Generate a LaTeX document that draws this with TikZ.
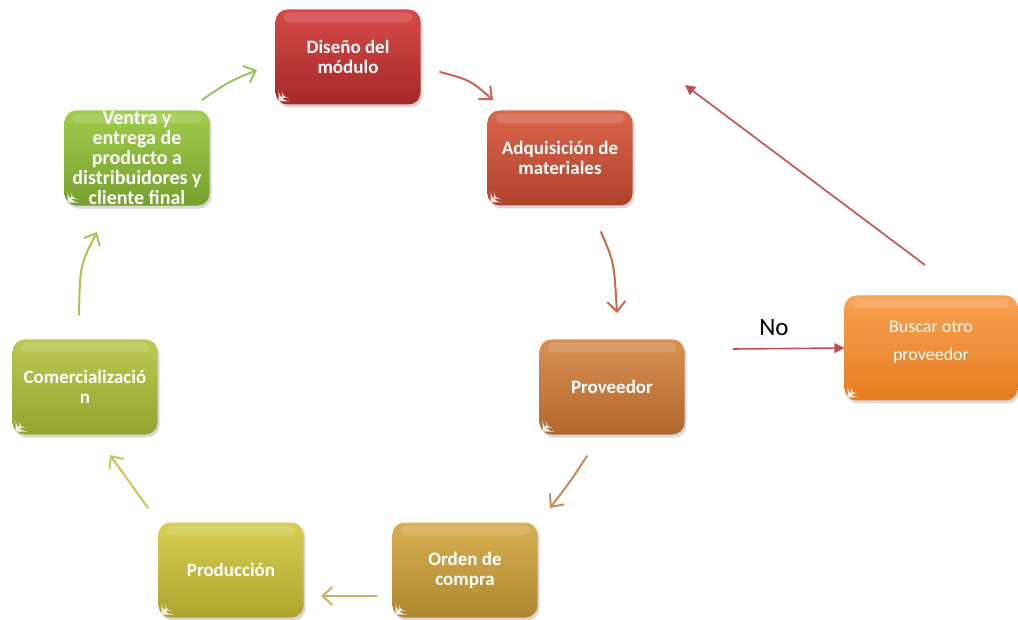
\documentclass[tikz,border=0pt]{standalone}
\usepackage{fontspec}
\setmainfont{Carlito}
\usetikzlibrary{arrows.meta,shadows,calc}
\definecolor{redline}{HTML}{C0504D}
\definecolor{disT}{HTML}{D64A48}\definecolor{disB}{HTML}{A62828}
\definecolor{adqT}{HTML}{DA664C}\definecolor{adqB}{HTML}{B0422C}
\definecolor{provT}{HTML}{D89052}\definecolor{provB}{HTML}{B0682E}
\definecolor{ordT}{HTML}{D8B052}\definecolor{ordB}{HTML}{AE862E}
\definecolor{prodT}{HTML}{D8CE52}\definecolor{prodB}{HTML}{ACA42E}
\definecolor{comT}{HTML}{BCC852}\definecolor{comB}{HTML}{94A42E}
\definecolor{venT}{HTML}{A0CC4C}\definecolor{venB}{HTML}{76A02E}
\definecolor{busT}{HTML}{FAA254}\definecolor{busB}{HTML}{E47C1E}
\definecolor{ar1}{HTML}{D2605C}
\definecolor{ar2}{HTML}{C86A4C}
\definecolor{ar3}{HTML}{CC8A54}
\definecolor{ar4}{HTML}{D2B064}
\definecolor{ar5}{HTML}{CCC45A}
\definecolor{ar6}{HTML}{AAC254}
\definecolor{ar7}{HTML}{9CC460}
\tikzset{
  box/.style={rounded corners=12pt, minimum width=145pt, minimum height=95pt,
    text=white, align=center, inner sep=1pt,
    font=\bfseries\fontsize{19}{20}\selectfont,
    drop shadow={shadow xshift=2pt, shadow yshift=-3pt, opacity=0.3},
    path picture={
      \fill[white,opacity=0.14,rounded corners=6pt]
        ($(path picture bounding box.north west)+(8pt,-3pt)$) rectangle
        ($(path picture bounding box.north east)+(-8pt,-13pt)$);
      \fill[white,opacity=0.85]
        ($(path picture bounding box.south west)+(3pt,3pt)$) --
        ($(path picture bounding box.south west)+(3pt,11pt)$) to[bend left=20]
        ($(path picture bounding box.south west)+(11pt,3pt)$) -- cycle;
    }},
  cyc/.style={line width=2pt, line cap=round, -{Straight Barb[length=10pt,width=18pt,line width=2pt]}},
  redarrow/.style={draw=redline, line width=1.6pt, -{Triangle[length=10pt,width=10pt]}}
}
\begin{document}
\begin{tikzpicture}[x=1pt,y=-1pt]
\useasboundingbox (0,0) rectangle (1018,620);
% nodes
\node[box, top color=disT, bottom color=disB] (dis) at (348,57) {Diseño del\\módulo};
\node[box, top color=adqT, bottom color=adqB] (adq) at (560,158) {Adquisición de\\materiales};
\node[box, top color=provT, bottom color=provB] (prov) at (612,387) {Proveedor};
\node[box, top color=ordT, bottom color=ordB] (ord) at (465,570) {Orden de\\compra};
\node[box, top color=prodT, bottom color=prodB] (prod) at (231,570) {Producción};
\node[box, top color=comT, bottom color=comB] (com) at (85,387) {Comercializació\\n};
\node[box, top color=venT, bottom color=venB, font=\bfseries\fontsize{20}{20}\selectfont] (ven) at (137,158) {Ventra y\\entrega de\\producto a\\distribuidores y\\cliente final};
\node[box, minimum width=173pt, minimum height=105pt, font=\fontsize{18}{28}\selectfont,
  top color=busT, bottom color=busB] (bus) at (931,348)
  {\raisebox{7pt}[\height][\depth]{\begin{tabular}{@{}c@{}}Buscar otro\\proveedor\end{tabular}}};
% arrow end points
\coordinate (a1s) at (440,72);  \coordinate (a1e) at (493,100);
\coordinate (a2s) at (601,232); \coordinate (a2e) at (617,313);
\coordinate (a3s) at (587,456); \coordinate (a3e) at (550,508);
\coordinate (a4s) at (377,596); \coordinate (a4e) at (321,596);
\coordinate (a5s) at (148,508); \coordinate (a5e) at (110,455);
\coordinate (a6s) at (79,315);  \coordinate (a6e) at (97,232);
\coordinate (a7s) at (202,100); \coordinate (a7e) at (257,70);
\coordinate (nos) at (733,349);
\coordinate (rbs) at (925,265); \coordinate (rbe) at (685,85);
% cycle arrows
\draw[cyc, draw=ar1] (a1s) .. controls (470,80) .. (a1e);
\draw[cyc, draw=ar2] (a2s) .. controls (614,262) .. (a2e);
\draw[cyc, draw=ar3] (a3s) .. controls (570,482) .. (a3e);
\draw[cyc, draw=ar4] (a4s) -- (a4e);
\draw[cyc, draw=ar5] (a5s) .. controls (128,480) .. (a5e);
\draw[cyc, draw=ar6] (a6s) .. controls (80,265) .. (a6e);
\draw[cyc, draw=ar7] (a7s) .. controls (228,82) .. (a7e);
% red arrows
\draw[redarrow] (nos) -- (bus.west);
\draw[redarrow] (rbs) -- (rbe);
\node[font=\fontsize{25}{28}\selectfont] (no) at (774,328) {No};
\end{tikzpicture}
\end{document}
